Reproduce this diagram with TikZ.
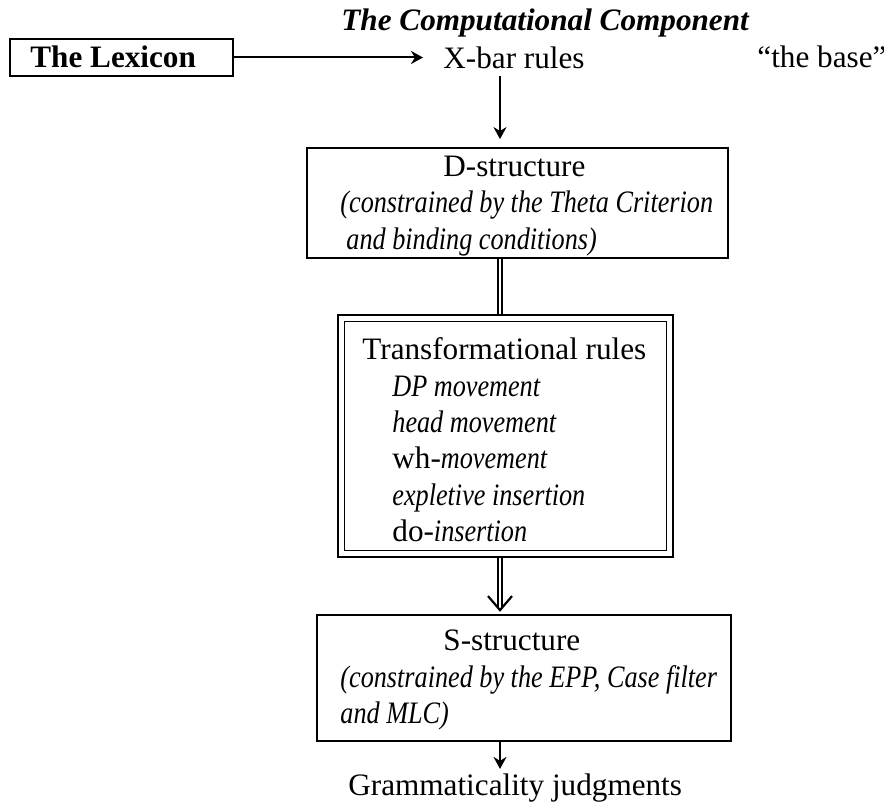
\documentclass[tikz,border=0pt]{standalone}
\usepackage{fontspec}
\setmainfont{Liberation Serif}[ItalicFeatures={FakeStretch=0.84}]
\usetikzlibrary{arrows.meta,calc}
\newcommand{\fs}{\fontsize{15.6}{18}\selectfont}
\tikzset{
  txt/.style={inner sep=0pt, anchor=base west, font=\fs},
  itxt/.style={txt, font=\fs\itshape},
  box/.style={draw, line width=0.9pt, inner sep=0pt},
  arr/.style={line width=1pt, -{Stealth[length=6pt,width=6.5pt]}},
  dbl/.style={double, double distance=1.4pt, line width=0.9pt},
}
\begin{document}
\begin{tikzpicture}[x=0.5pt,y=-0.5pt]
\useasboundingbox (0,0) rectangle (884,802);
% column for vertical connectors
\coordinate (c) at (500,0);
% boxes
\node[box, minimum width=111.5pt, minimum height=18.5pt] (lex) at (121.5,57.5) {};
\node[box, minimum width=210.5pt, minimum height=55pt] (dbox) at (517.5,203) {};
\node[box, line width=1.1pt, minimum width=167.5pt, minimum height=121pt] (tbox) at (505.5,436) {};
\node[box, minimum width=161pt, minimum height=114.5pt] (tinner) at (505.5,436) {};
\node[box, minimum width=207pt, minimum height=63pt] (sbox) at (524,678) {};
% texts
\node[txt, font=\fs\bfseries] (lext) at (30,68) {The Lexicon};
\node[txt, font=\fs\bfseries\itshape] (title) at (341,31) {The Computational Component};
\node[txt] (xbar) at (443,69) {X-bar rules};
\node[txt] (base) at (757,68) {“the base”};
\node[txt] (dtitle) at (443,177) {D-structure};
\node[itxt] (d1) at (340,213) {(constrained by the Theta Criterion};
\node[itxt] (d2) at (346,250) {and binding conditions)};
\node[txt] (ttitle) at (362,360) {Transformational rules};
\node[itxt] (t1) at (392,396) {DP movement};
\node[itxt] (t2) at (392,432) {head movement};
\node[txt] (t3) at (392,468) {wh-\textit{movement}};
\node[itxt] (t4) at (392,505) {expletive insertion};
\node[txt] (t5) at (392,541) {do-\textit{insertion}};
\node[txt] (stitle) at (443,650) {S-structure};
\node[itxt] (s1) at (340,687) {(constrained by the EPP, Case filter};
\node[itxt] (s2) at (340,723) {and MLC)};
\node[txt] (gram) at (348,795) {Grammaticality judgments};
% connectors
\draw[arr, shorten >=10pt] (lex.east) -- (lex.east -| xbar.west);
\draw[arr, shorten <=3pt, shorten >=4pt] (xbar.south -| c) -- (dbox.north -| c);
\draw[dbl] (dbox.south -| c) -- (tbox.north -| c);
\draw[dbl, shorten >=3pt] (tbox.south -| c) -- (sbox.north -| c);
\coordinate (tip) at ($(sbox.north -| c)+(0,-4)$);
\draw[line width=1.1pt] ($(tip)+(-12,-14)$) -- (tip) -- ($(tip)+(12,-14)$);
\draw[arr, shorten >=2pt] (sbox.south -| c) -- (gram.north -| c);
\end{tikzpicture}
\end{document}
